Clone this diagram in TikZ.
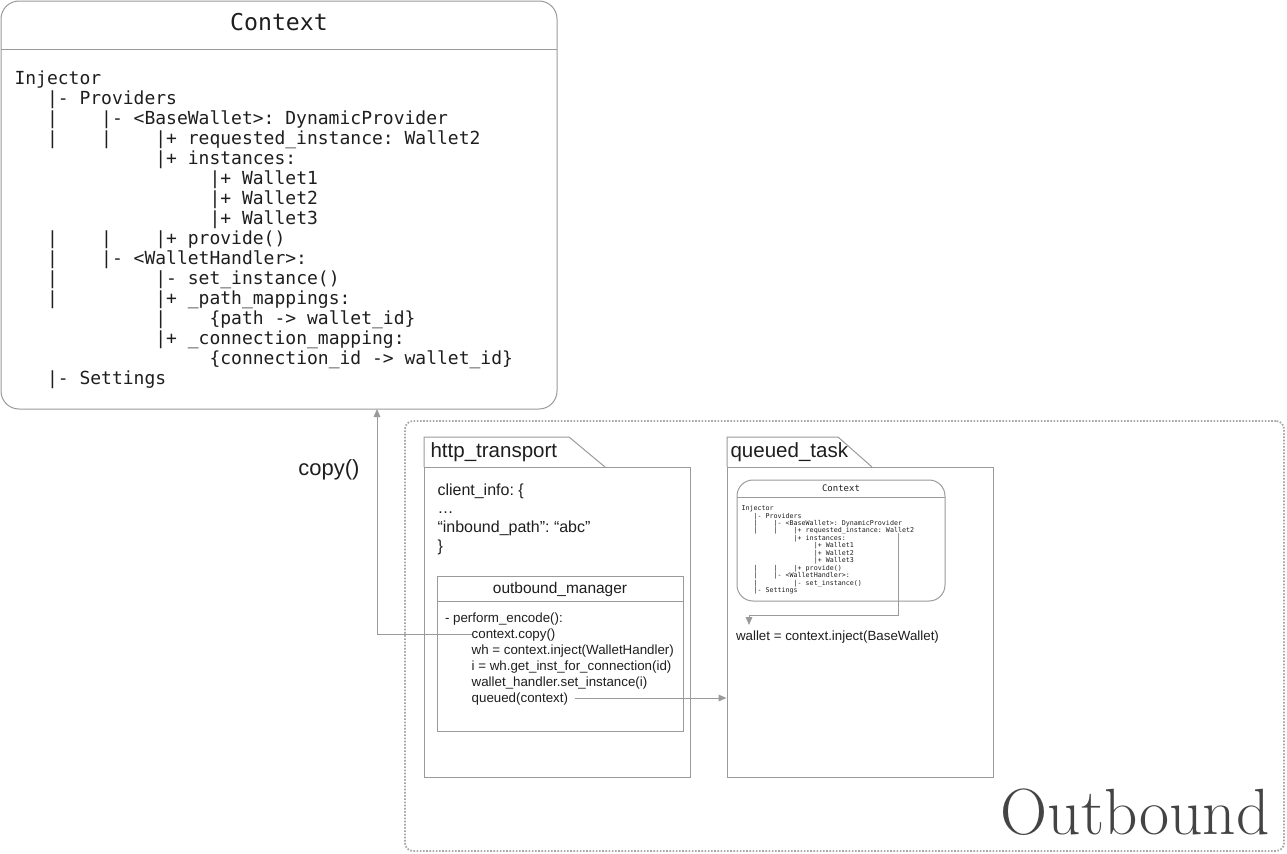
\documentclass[tikz,border=0pt]{standalone}
\usepackage{fontspec}
\usepackage{tikz}
\usetikzlibrary{positioning,calc,fit,arrows.meta}
\newfontfamily\sansf{Liberation Sans}
\newfontfamily\monof{DejaVu Sans Mono}
\definecolor{edgegray}{HTML}{9A9A9A}
\definecolor{dotgray}{HTML}{A8A8A8}
\definecolor{ink}{HTML}{1E1E1E}
\definecolor{bigink}{HTML}{444444}
\newcommand{\mfont}[2]{\monof\fontsize{#1}{#2}\selectfont\frenchspacing}
\newcommand{\sfont}[2]{\sansf\fontsize{#1}{#2}\selectfont\frenchspacing}

\begin{document}
\begin{tikzpicture}[x=0.75pt,y=-0.75pt,
  line width=0.75pt,
  frame/.style={draw=edgegray,inner sep=0pt},
  ctxframe/.style={frame,rounded corners=13.5pt},
  minictx/.style={frame,rounded corners=12pt},
  outer/.style={draw=dotgray,line width=1.4pt,dash pattern=on 1.2pt off 1.2pt,rounded corners=6pt,inner sep=0pt},
  tab/.style={draw=edgegray},
  tabtitle/.style={font=\sfont{15.4pt}{18pt},text=ink,inner sep=0pt},
  treetext/.style={font=\mfont{13.5pt}{15pt},text=ink,align=left,inner sep=0pt},
  minitree/.style={font=\mfont{5pt}{5.6pt},text=ink,align=left,inner sep=0pt},
  codeline/.style={font=\sfont{10pt}{12pt},text=ink,inner sep=0pt,outer sep=0pt,text height=9pt,text depth=3pt},
  arr/.style={draw=edgegray,-{Triangle[length=6pt,width=5pt]}},
]
\useasboundingbox (0,0) rectangle (1287,853);
% big context
\node[ctxframe,fit={(1,1)(557,409)}] (ctx) {};
\draw[edgegray] (1,49) -- (557,49);
\node[font=\mfont{17.4pt}{20pt},text=ink,inner sep=0pt] (ctxname) at (279,22) {Context};
\node[treetext,anchor=north west] (ctxtree) at (14,70) {Injector\\
~~~|- Providers\\
~~~|~~~~|- <BaseWallet>: DynamicProvider\\
~~~|~~~~|~~~~|+ requested\_instance: Wallet2\\
~~~~~~~~~~~~~|+ instances:\\
~~~~~~~~~~~~~~~~~~|+ Wallet1\\
~~~~~~~~~~~~~~~~~~|+ Wallet2\\
~~~~~~~~~~~~~~~~~~|+ Wallet3\\
~~~|~~~~|~~~~|+ provide()\\
~~~|~~~~|- <WalletHandler>:\\
~~~|~~~~~~~~~|- set\_instance()\\
~~~|~~~~~~~~~|+ \_path\_mappings:\\
~~~~~~~~~~~~~|~~~~\{path -> wallet\_id\}\\
~~~~~~~~~~~~~|+ \_connection\_mapping:\\
~~~~~~~~~~~~~~~~~~\{connection\_id -> wallet\_id\}\\
~~~|- Settings};
\coordinate (copytip) at (377,409);
\node[font=\sfont{16.5pt}{18pt},text=ink,inner sep=0pt] (copylabel) at (329,470) {copy()};
%
% outbound area
\node[outer,fit={(405,421)(1284,851)}] (outbound) {};
\node[font=\fontsize{49pt}{52pt}\selectfont,text=bigink,inner sep=0pt,anchor=base east] (outname) at (1270,834) {Outbound};
%
% http_transport
\draw[tab] (424,467) -- (424,437) -- (569,437) -- (605,467);
\node[frame,fit={(424,467)(690,777)}] (http) {};
\node[tabtitle,anchor=west] (httpname) at (430,452) {http\_transport};
\node[font=\sfont{12pt}{14pt},text=ink,align=left,inner sep=0pt,anchor=north west] (clientinfo) at (437,483) {client\_info: \{\\ …\\ “inbound\_path”: “abc”\\ \}};
\node[frame,fit={(437,576)(683,731)}] (mgr) {};
\draw[edgegray] (437,601) -- (683,601);
\node[font=\sfont{11.6pt}{14pt},text=ink,inner sep=0pt] (mgrname) at (560,589) {outbound\_manager};
\node[codeline,anchor=base west] (enc) at (445,622) {- perform\_encode():};
\node[codeline,below=0pt of enc.south west,anchor=north west,xshift=20pt] (ccopy) {context.copy()};
\node[codeline,below=0pt of ccopy.south west,anchor=north west] (inj) {wh = context.inject(WalletHandler)};
\node[codeline,below=0pt of inj.south west,anchor=north west] (inst) {i = wh.get\_inst\_for\_connection(id)};
\node[codeline,below=0pt of inst.south west,anchor=north west] (setinst) {wallet\_handler.set\_instance(i)};
\node[codeline,below=0pt of setinst.south west,anchor=north west] (queued) {queued(context)};
%
% queued_task
\draw[tab] (727,467) -- (727,437) -- (838,437) -- (872,467);
\node[frame,fit={(727,467)(993,777)}] (qtask) {};
\node[tabtitle,anchor=west] (qname) at (730,452) {queued\_task};
\node[minictx,fit={(737,480)(945,601)}] (mctx) {};
\draw[edgegray] (737,497) -- (945,497);
\node[font=\mfont{6.75pt}{8pt},text=ink,inner sep=0pt] (mctxname) at (841,488) {Context};
\node[minitree,anchor=north west] (mtree) at (741,505) {Injector\\
~~~|- Providers\\
~~~|~~~~|- <BaseWallet>: DynamicProvider\\
~~~|~~~~|~~~~|+ requested\_instance: Wallet2\\
~~~~~~~~~~~~~|+ instances:\\
~~~~~~~~~~~~~~~~~~|+ Wallet1\\
~~~~~~~~~~~~~~~~~~|+ Wallet2\\
~~~~~~~~~~~~~~~~~~|+ Wallet3\\
~~~|~~~~|~~~~|+ provide()\\
~~~|~~~~|- <WalletHandler>:\\
~~~|~~~~~~~~~|- set\_instance()\\
~~~|- Settings};
\node[codeline,anchor=base west] (wallet) at (736,640) {wallet = context.inject(BaseWallet)};
\coordinate (wstart) at (898,533);
\coordinate (wbend) at (749,615);
%
\draw[arr] (ccopy.west) -| (copytip);
\draw[arr,shorten <=5pt] (queued.east) -- (queued.east -| qtask.west);
\draw[arr] (wstart) |- (wbend) -- ($(wallet.north west -| wbend)+(0,-3)$);
\end{tikzpicture}
\end{document}
